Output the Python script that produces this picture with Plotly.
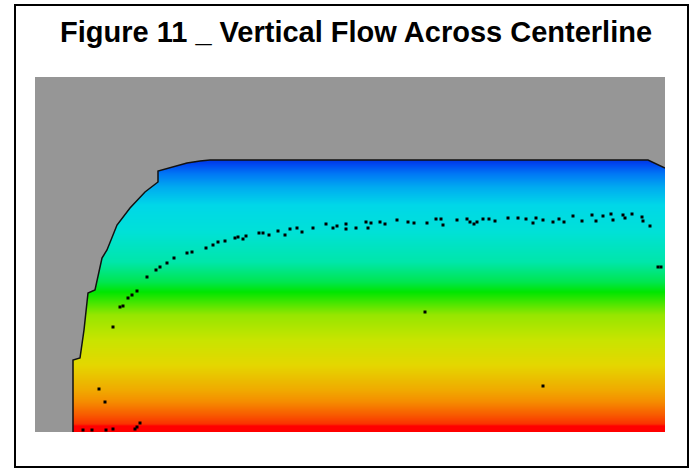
import plotly.graph_objects as go

# ---- data (x = horizontal position, y = height above bottom, arbitrary units) ----
X_RANGE = [0, 630]
Y_RANGE = [0, 355]

# colored flow region extents
REGION_X = [38, 630]
REGION_TOP = 272

# vertical colour profile: heights and colours (blue top -> red bottom)
profile_heights = [0, 6, 8, 17, 30, 42, 67, 92, 117, 140, 150, 170, 200, 227, 245, 258, 268, 272]
profile_colors = ["rgb(255,0,0)", "rgb(255,0,0)", "rgb(250,50,0)", "rgb(248,90,0)",
                  "rgb(245,140,0)", "rgb(240,170,0)", "rgb(228,215,0)", "rgb(200,228,0)",
                  "rgb(150,230,0)", "rgb(0,230,0)", "rgb(0,230,80)", "rgb(0,230,170)",
                  "rgb(0,225,215)", "rgb(0,215,232)", "rgb(0,170,240)", "rgb(0,120,245)",
                  "rgb(0,70,240)", "rgb(0,55,225)"]

# boundary of the flow region (left rounded corner, top, right chamfer)
boundary_x = [38, 38, 45, 49, 53, 60, 67, 72, 82, 95, 110, 123, 123, 135, 152, 165, 175, 613, 630]
boundary_y = [0, 72, 74, 102, 139, 142, 174, 182, 207, 224, 240, 250, 261, 264, 269, 271, 272, 272, 264]

# particle dots
dots_x = [78, 85, 88, 93, 97, 102, 112, 121, 125, 132, 139, 152, 157, 171, 178, 183, 190, 200, 203,
          208, 211, 224, 228, 234, 243, 250, 255, 262, 267, 278, 291, 298, 302, 311, 311, 321, 331,
          333, 336, 345, 350, 362, 373, 379, 392, 401, 406, 408, 422, 432, 435, 439, 442, 448, 454,
          460, 473, 483, 491, 498, 501, 508, 518, 524, 529, 538, 547, 557, 561, 568, 576, 578, 588,
          590, 597, 607, 608, 615, 623, 626, 390, 508, 64, 70, 105, 102, 100, 48, 57, 71, 78]
dots_y = [105, 125, 126, 134, 137, 141, 155, 162, 165, 169, 174, 179, 180, 184, 187, 190, 191, 194, 195,
          193, 196, 199, 199, 197, 201, 197, 203, 204, 200, 204, 208, 204, 206, 208, 203, 204, 210,
          204, 209, 210, 208, 212, 210, 209, 209, 213, 213, 207, 212, 213, 210, 208, 210, 213, 213,
          211, 214, 214, 213, 209, 214, 212, 210, 213, 210, 216, 211, 217, 211, 216, 218, 212, 217,
          214, 218, 215, 211, 206, 165, 165, 120, 46, 43, 30, 9, 5, 3, 2, 2, 2, 3]

TITLE = "Figure 11 _ Vertical Flow Across Centerline"
GRAY = "#969696"

# ---- figure ----
colorscale = [[h / REGION_TOP, c] for h, c in zip(profile_heights, profile_colors)]
rows = list(range(REGION_TOP))

fig = go.Figure()
fig.add_trace(go.Heatmap(
    x=REGION_X,
    y=list(range(REGION_TOP + 1)),
    z=[[r + 0.5] for r in rows],
    zmin=0, zmax=REGION_TOP,
    colorscale=colorscale,
    showscale=False,
    hoverinfo="skip",
))

# gray mask outside the rounded corner
mask_x = boundary_x[:17] + [REGION_X[0]]
mask_y = boundary_y[:17] + [REGION_TOP]
fig.add_trace(go.Scatter(x=mask_x, y=mask_y, fill="toself", fillcolor=GRAY,
                         mode="none", hoverinfo="skip", showlegend=False))
# gray mask outside the right chamfer
fig.add_trace(go.Scatter(x=[boundary_x[-2], boundary_x[-1], boundary_x[-1]],
                         y=[boundary_y[-2], boundary_y[-1], REGION_TOP],
                         fill="toself", fillcolor=GRAY, mode="none",
                         hoverinfo="skip", showlegend=False))
# outline
fig.add_trace(go.Scatter(x=boundary_x, y=boundary_y, mode="lines",
                         line=dict(color="#111111", width=1.5),
                         hoverinfo="skip", showlegend=False))
# dots
fig.add_trace(go.Scatter(x=dots_x, y=dots_y, mode="markers",
                         marker=dict(symbol="square", size=3, color="black", line=dict(width=0)),
                         hoverinfo="skip", showlegend=False))

W, H = 691, 469
ml, mr, mt, mb = 35, 26, 77, 37
pw, ph = W - ml - mr, H - mt - mb

def px_to_paper_x(px):
    return (px - ml) / pw

def px_to_paper_y(py):
    return (H - mb - py) / ph

fig.update_layout(
    width=W, height=H,
    margin=dict(l=ml, r=mr, t=mt, b=mb, pad=0),
    paper_bgcolor="white",
    plot_bgcolor=GRAY,
    showlegend=False,
    xaxis=dict(range=X_RANGE, visible=False, fixedrange=True),
    yaxis=dict(range=Y_RANGE, visible=False, fixedrange=True),
    annotations=[dict(
        text="<b>" + TITLE + "</b>",
        xref="paper", yref="paper",
        x=px_to_paper_x(356), y=px_to_paper_y(32.5),
        xanchor="center", yanchor="middle", showarrow=False,
        font=dict(family="Liberation Sans, Arial, sans-serif", size=29, color="black"),
    )],
    shapes=[dict(
        type="rect", xref="paper", yref="paper",
        x0=px_to_paper_x(15), x1=px_to_paper_x(688),
        y0=px_to_paper_y(467), y1=px_to_paper_y(5),
        line=dict(color="black", width=2), fillcolor="rgba(0,0,0,0)",
        layer="above",
    )],
)

fig.write_html("out.html")
